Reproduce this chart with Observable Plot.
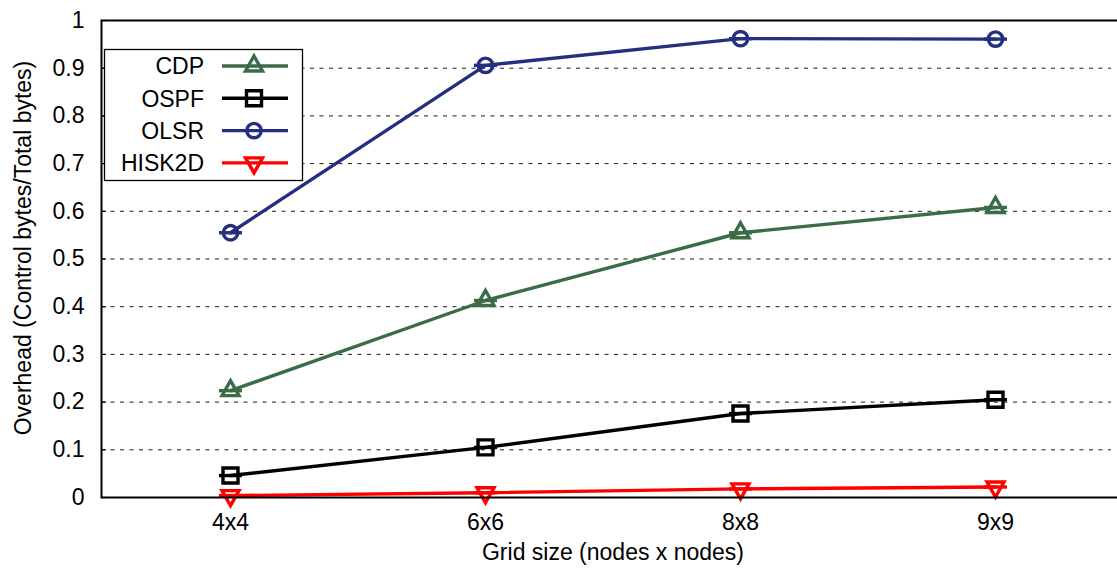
<!DOCTYPE html>
<html>
<head>
<meta charset="utf-8">
<script src="https://cdn.jsdelivr.net/npm/d3@7"></script>
<script src="https://cdn.jsdelivr.net/npm/@observablehq/plot@0.6"></script>
<style>
  html, body { margin: 0; padding: 0; background: #fff; }
  #chart svg { display: block; }
</style>
</head>
<body>
<div id="chart"></div>
<script>
// ---- data ----
const grids = ["4x4", "6x6", "8x8", "9x9"];
const seriesNames = ["CDP", "OSPF", "OLSR", "HISK2D"];
const cdp = [0.224, 0.413, 0.555, 0.608];
const ospf = [0.046, 0.105, 0.176, 0.205];
const olsr = [0.555, 0.906, 0.962, 0.961];
const hisk2d = [0.004, 0.010, 0.018, 0.022];
const yTicks = [0, 0.1, 0.2, 0.3, 0.4, 0.5, 0.6, 0.7, 0.8, 0.9, 1];
const colors = ["#3b6c48", "#000000", "#252f80", "#ff0000"];

// ---- symbols ----
const triUp = { draw(c) { const w = 8.5, h = 15; c.moveTo(0, -h * 2 / 3); c.lineTo(w, h / 3); c.lineTo(-w, h / 3); c.closePath(); } };
const triDown = { draw(c) { const w = 8.5, h = 15; c.moveTo(0, h * 2 / 3); c.lineTo(w, -h / 3); c.lineTo(-w, -h / 3); c.closePath(); } };
const square = { draw(c) { c.rect(-7.5, -7.5, 15, 15); } };
const circle = { draw(c) { c.moveTo(7.2, 0); c.arc(0, 0, 7.2, 0, 2 * Math.PI); } };
const hbar = { draw(c) { c.moveTo(-11.5, 0); c.lineTo(11.5, 0); } };
const symbols = [triUp, square, circle, triDown];

const values = [cdp, ospf, olsr, hisk2d];
const data = seriesNames.flatMap((name, k) =>
  values[k].map((v, i) => ({ series: name, grid: grids[i], value: v }))
);

const font = "'Liberation Sans', Arial, Helvetica, sans-serif";
const fmt = d => String(+d.toFixed(1));
const lw = 3.4;

const marks = [
  Plot.gridY(yTicks.filter(t => t > 0 && t < 1), {
    stroke: "#000", strokeOpacity: 0.9, strokeWidth: 1, strokeDasharray: "4,5.5", insetRight: 13
  }),
  Plot.axisY({ ticks: yTicks, tickSize: -5, text: null, label: null, strokeWidth: 1.2 }),
  Plot.axisY({ ticks: yTicks, tickSize: 0, tickPadding: 17, tickFormat: fmt, label: null, fontSize: 23 }),
  Plot.axisX({ tickSize: 0, tickPadding: 16, label: null, fontSize: 23 }),
  Plot.text(["Overhead (Control bytes/Total bytes)"], {
    frameAnchor: "left", textAnchor: "middle", rotate: -90, dx: -78, dy: -11, fontSize: 23, fill: "#000"
  }),
  Plot.text(["Grid size (nodes x nodes)"], {
    frameAnchor: "bottom", textAnchor: "middle", dy: 62, fontSize: 23, fill: "#000"
  })
];

seriesNames.forEach((name, k) => {
  const sub = data.filter(d => d.series === name);
  marks.push(
    Plot.line(sub, { x: "grid", y: "value", stroke: colors[k], strokeWidth: lw }),
    Plot.dot(sub, { x: "grid", y: "value", symbol: hbar, stroke: colors[k], strokeWidth: lw, r: 5 }),
    Plot.dot(sub, { x: "grid", y: "value", symbol: symbols[k], stroke: colors[k], strokeWidth: lw, fill: "none", r: 5 })
  );
});

marks.push(Plot.frame({ stroke: "#000", strokeWidth: 2 }));

const plot = Plot.plot({
  width: 1117,
  height: 577,
  marginLeft: 101,
  marginTop: 20,
  marginBottom: 80,
  marginRight: -7,
  style: { fontFamily: font, fontSize: "23px", background: "#fff", color: "#000", overflow: "hidden" },
  x: { type: "point", domain: grids, padding: 0.5 },
  y: { domain: [0, 1] },
  marks
});

// ---- in-plot legend (box with line + marker samples) ----
const svg = d3.select(plot);
const lg = svg.append("g").attr("font-family", font).attr("font-size", 23);
lg.append("rect").attr("x", 104.5).attr("y", 49.5).attr("width", 198).attr("height", 131)
  .attr("fill", "#fff").attr("stroke", "#000").attr("stroke-width", 1.3);
seriesNames.forEach((name, k) => {
  const y = 66 + k * 32.3;
  lg.append("text").attr("x", 204).attr("y", y).attr("dy", "0.36em")
    .attr("text-anchor", "end").attr("fill", "#000").text(name);
  lg.append("line").attr("x1", 222).attr("x2", 288).attr("y1", y).attr("y2", y)
    .attr("stroke", colors[k]).attr("stroke-width", lw);
  lg.append("path").attr("transform", `translate(254,${y})`)
    .attr("d", d3.symbol(symbols[k])())
    .attr("fill", "none").attr("stroke", colors[k]).attr("stroke-width", lw);
});

document.getElementById("chart").appendChild(plot);
</script>
</body>
</html>
